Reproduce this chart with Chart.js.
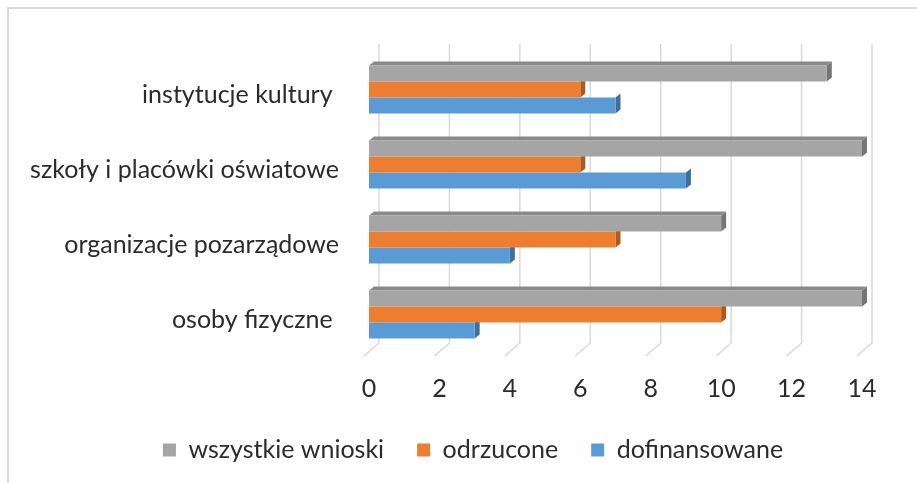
<!DOCTYPE html>
<html>
<head>
<meta charset="utf-8">
<script src="https://cdn.jsdelivr.net/npm/chart.js@4.4.0/dist/chart.umd.min.js"></script>
<style>
  html, body { margin: 0; padding: 0; background: #fff; overflow: hidden; }
  #ramka { position: absolute; left: 7px; top: 7px; width: 980px; height: 540px; border: 2px solid #d9d9d9; }
  #wrap { position: absolute; left: 0; top: 0; width: 917px; height: 483px; }
</style>
</head>
<body>
<div id="ramka"></div>
<div id="wrap"><canvas id="wykres" width="917" height="483"></canvas></div>
<script>
// dane
const kategorie = ['instytucje kultury ', 'szkoły i placówki oświatowe', 'organizacje pozarządowe', 'osoby fizyczne '];
const wszystkie = [13, 14, 10, 14];
const odrzucone = [6, 6, 7, 10];
const dofinansowane = [7, 9, 4, 3];
const podzialka = [0, 2, 4, 6, 8, 10, 12, 14];

const DX = 5, DY = 4;
const LEGEND_SHIFT = 42;

// =============== EFEKT 3D (ściany boczne + siatka w tle) ===============
const efekt3d = {
    id: 'efekt3d',
    afterLayout(chart) {
        // legenda w oryginale jest przesunięta w prawo
        if (chart.legend) {
            chart.legend.left += LEGEND_SHIFT;
            chart.legend.right += LEGEND_SHIFT;
        }
    },
    beforeDatasetsDraw(chart) {
        const { ctx, chartArea, scales: { x } } = chart;
        ctx.save();

        // linie siatki na tylnej ścianie
        ctx.strokeStyle = '#d9d9d9';
        ctx.lineWidth = 1.5;
        podzialka.forEach(v => {
            const px = x.getPixelForValue(v);
            ctx.beginPath();
            ctx.moveTo(px + 10, chartArea.top - 8);
            ctx.lineTo(px + 10, chartArea.bottom - 9);
            ctx.lineTo(px - 5, chartArea.bottom + 4);
            ctx.stroke();
        });

        // boki i góra słupków
        chart.data.datasets.forEach((ds, i) => {
            const meta = chart.getDatasetMeta(i);
            meta.data.forEach(bar => {
                const top = bar.y - bar.height / 2;
                const bot = bar.y + bar.height / 2;
                ctx.fillStyle = ds.sideColor;
                ctx.beginPath();
                ctx.moveTo(bar.x, top);
                ctx.lineTo(bar.x + DX, top - DY);
                ctx.lineTo(bar.x + DX, bot - DY);
                ctx.lineTo(bar.x, bot);
                ctx.closePath();
                ctx.fill();
                if (i === 0) {
                    ctx.fillStyle = ds.topColor;
                    ctx.beginPath();
                    ctx.moveTo(bar.base, top);
                    ctx.lineTo(bar.base + DX, top - DY);
                    ctx.lineTo(bar.x + DX, top - DY);
                    ctx.lineTo(bar.x, top);
                    ctx.closePath();
                    ctx.fill();
                }
            });
        });
        ctx.restore();
    }
};

Chart.defaults.font.family = 'Lato';
Chart.defaults.font.size = 25;
Chart.defaults.color = '#2b2b2b';

const ctx = document.getElementById('wykres').getContext('2d');
new Chart(ctx, {
    type: 'bar',
    data: {
        labels: kategorie,
        datasets: [
            { label: 'wszystkie wnioski', data: wszystkie, backgroundColor: '#a5a5a5', sideColor: '#757575', topColor: '#8a8a8a' },
            { label: 'odrzucone', data: odrzucone, backgroundColor: '#ed7d31', sideColor: '#ad5a20', topColor: '#c46527' },
            { label: 'dofinansowane', data: dofinansowane, backgroundColor: '#5b9bd5', sideColor: '#3f6f9c', topColor: '#4a80b2' }
        ]
    },
    options: {
        indexAxis: 'y',
        responsive: false,
        animation: false,
        datasets: {
            bar: { barPercentage: 1, categoryPercentage: 0.64, borderWidth: 0 }
        },
        layout: { padding: { left: 0, right: 55, top: 52, bottom: 10.5 } },
        scales: {
            x: {
                min: 0,
                max: 14,
                ticks: { stepSize: 2, padding: 22 },
                grid: { display: false, drawTicks: false },
                border: { display: false },
                afterFit(scale) { scale.height = 52.5; }
            },
            y: {
                ticks: { padding: 30, labelOffset: 5 },
                grid: { display: false, drawTicks: false },
                border: { display: false },
                afterFit(scale) { scale.width = 369; }
            }
        },
        plugins: {
            legend: {
                position: 'bottom',
                labels: { boxWidth: 13, boxHeight: 13, padding: 33 }
            },
            tooltip: { enabled: false }
        }
    },
    plugins: [efekt3d]
});
</script>
</body>
</html>
